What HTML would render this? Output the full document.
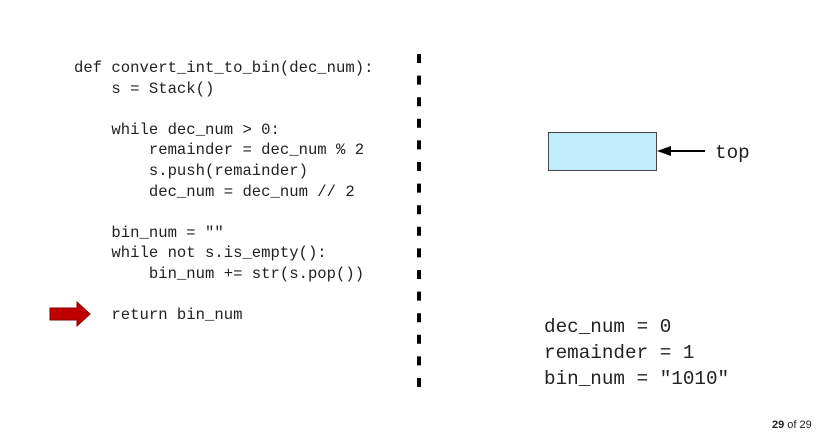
<!DOCTYPE html>
<html><head><style>
body{margin:0;width:825px;height:443px;background:#fff;position:relative;overflow:hidden;font-family:"Liberation Mono",monospace;}
.c{position:absolute;left:74px;font-size:15.6px;line-height:20.6px;white-space:pre;color:#222;}
.v{position:absolute;left:544px;font-size:19.3px;white-space:pre;color:#222;line-height:26px;}
</style></head><body>
<div class="c" style="top:58px">def convert_int_to_bin(dec_num):
    s = Stack()

    while dec_num &gt; 0:
        remainder = dec_num % 2
        s.push(remainder)
        dec_num = dec_num // 2

    bin_num = ""
    while not s.is_empty():
        bin_num += str(s.pop())

    return bin_num</div>
<svg style="position:absolute;left:0;top:0" width="825" height="443">
<line x1="419" y1="54" x2="419" y2="392" stroke="#000" stroke-width="4" stroke-dasharray="9,12.6"/>
<rect x="548.5" y="132.5" width="108" height="38" fill="#c0ecfc" stroke="#444" stroke-width="1"/>
<line x1="705" y1="151" x2="668" y2="151" stroke="#000" stroke-width="2"/>
<polygon points="657,151 671,146 671,156" fill="#000"/>
<polygon points="50,308 77,308 77,302 90,314 77,326 77,320 50,320" fill="#c00000" stroke="#8a0000" stroke-width="1"/>
</svg>
<div class="v" style="top:140px;left:715px">top</div>
<div class="v" style="top:314px">dec_num = 0
remainder = 1
bin_num = "1010"</div>
<div style="position:absolute;left:772px;top:419px;font-family:'Liberation Sans',sans-serif;font-size:11px;color:#222"><b>29</b> of 29</div>
</body></html>
